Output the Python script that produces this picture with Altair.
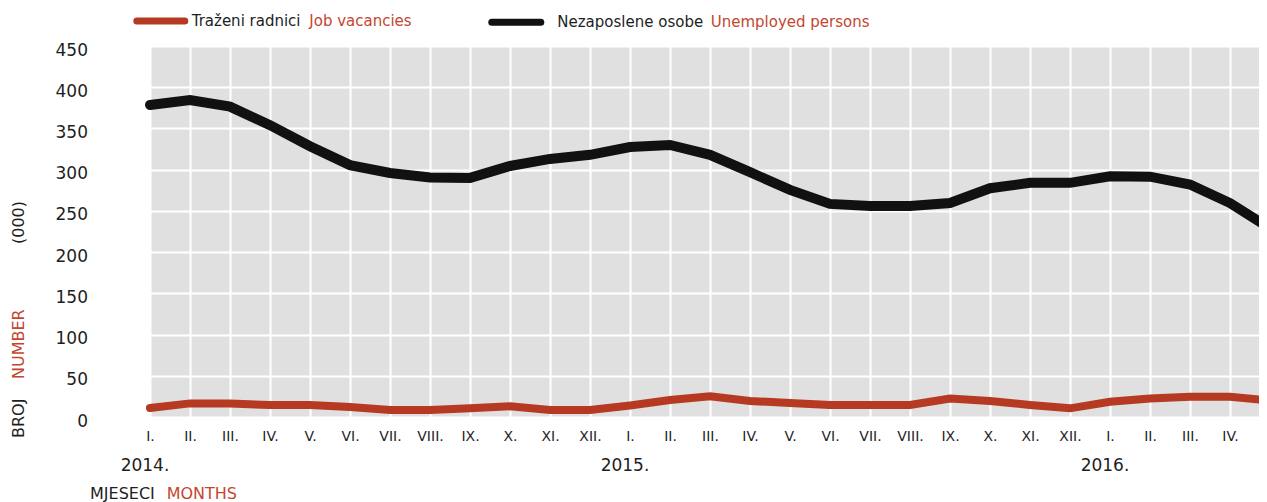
import json
import altair as alt
import pandas as pd

months = ["I.", "II.", "III.", "IV.", "V.", "VI.", "VII.", "VIII.", "IX.", "X.", "XI.", "XII.",
          "I.", "II.", "III.", "IV.", "V.", "VI.", "VII.", "VIII.", "IX.", "X.", "XI.", "XII.",
          "I.", "II.", "III.", "IV.", "V."]
unemployed = [378.5, 384.5, 376.5, 354, 328.5, 305.5, 296, 290.5, 290, 304.5, 313, 318,
              327.5, 330, 318, 297, 275.5, 258.5, 256, 256, 259.5, 277.5, 284, 284,
              292, 291.5, 282, 259.5, 229]
vacancies = [11, 16.5, 16.5, 14.5, 14.5, 12, 8.5, 8.5, 10.5, 13, 8.5, 8.5,
             14, 20.5, 25, 19.5, 17, 14.5, 14.5, 14.5, 22.5, 19.5, 14.5, 10.5,
             18.5, 22.5, 24.5, 24.5, 20]
years = ["2014.", "2015.", "2016."]
year_idx = [0, 12, 24]
y_ticks = [0, 50, 100, 150, 200, 250, 300, 350, 400, 450]

RED = "#b53a21"
RED_TXT = "#c4462f"
BLACK = "#111111"
TXT = "#1e1e1e"
FONT = "DejaVu Sans"

PL, PT = 150, 46                 # plot origin on the page
PAD_L, PAD_T = PL - 8, PT - 8
SVG_W = 1251                     # keeps the page exactly as wide as the window
PLOT_W = SVG_W - PAD_L
PLOT_H = 417 - 46
STEP = 40


def rx(x):
    return x - PL


def ry(y):
    return y - PT


idx = list(range(len(months)))
udf = pd.DataFrame({"i": idx, "v": unemployed})
vdf = pd.DataFrame({"i": idx, "v": vacancies})
ydf = pd.DataFrame({"i": year_idx, "t": years})

label_expr = json.dumps(months) + "[datum.value]"

x_enc = alt.X("i:Q", scale=alt.Scale(domain=[0, PLOT_W / STEP], nice=False, zero=False),
              axis=alt.Axis(values=idx, labelExpr=label_expr, title=None, grid=True,
                            gridColor="white", gridWidth=2, domain=False, ticks=False,
                            labelPadding=12, labelFontSize=14, labelColor=TXT,
                            labelFont=FONT, labelFlush=False, labelOverlap=False))
y_enc = alt.Y("v:Q", scale=alt.Scale(domain=[0, 450], nice=False),
              axis=alt.Axis(values=y_ticks, title=None, grid=True, gridColor="white",
                            gridWidth=2, domain=False, ticks=False,
                            labelPadding=PL - 87.5, labelOffset=4,
                            labelFontSize=17, labelColor=TXT, labelFont=FONT))

black_line = alt.Chart(udf).mark_line(
    color=BLACK, strokeWidth=10, strokeCap="round"
).encode(x=x_enc, y=y_enc)

red_line = alt.Chart(vdf).mark_line(
    color=RED, strokeWidth=8, strokeCap="round"
).encode(x=alt.X("i:Q"), y=alt.Y("v:Q"))

year_text = alt.Chart(ydf).mark_text(
    font=FONT, fontSize=17, color=TXT, dx=-5, align="center", baseline="middle"
).encode(x=alt.X("i:Q"), y=alt.value(ry(466.3)), text="t:N")

one = alt.Data(values=[{"a": 1}])


def txt(s, x, y, color=TXT, size=15, align="left", angle=0):
    kw = dict(font=FONT, fontSize=size, color=color, align=align, baseline="middle", text=s)
    if angle:
        kw["angle"] = angle
    return alt.Chart(one).mark_text(**kw).encode(x=alt.value(rx(x)), y=alt.value(ry(y)))


def swatch(x1, x2, y, color):
    return alt.Chart(one).mark_rule(color=color, strokeWidth=7, strokeCap="round").encode(
        x=alt.value(rx(x1) + 3.5), x2=alt.value(rx(x2) - 3.5), y=alt.value(ry(y)))


annots = [
    swatch(133.3, 188.3, 21, RED),
    txt("Traženi radnici", 191.7, 21),
    txt("Job vacancies", 309.3, 21, RED_TXT),
    swatch(488.3, 544.3, 22.3, BLACK),
    txt("Nezaposlene osobe", 557.3, 22.3),
    txt("Unemployed persons", 710.7, 22.3, RED_TXT),
    txt("BROJ", 19.2, 418.3, TXT, 16, "center", 270),
    txt("NUMBER", 19.2, 344.2, RED_TXT, 16, "center", 270),
    txt("(000)", 19.2, 222.5, TXT, 16, "center", 270),
    txt("MJESECI", 90, 493.5, TXT, 16),
    txt("MONTHS", 166.7, 493.5, RED_TXT, 16),
]

chart = alt.layer(black_line, red_line, year_text, *annots).properties(
    width=PLOT_W, height=PLOT_H,
    padding={"left": PAD_L, "top": PAD_T, "right": 0, "bottom": 88},
    autosize=alt.AutoSizeParams(type="none"),
).configure_view(fill="#dfe0df", strokeWidth=0)

chart.save("out.html", embed_options={"renderer": "svg", "actions": False})
